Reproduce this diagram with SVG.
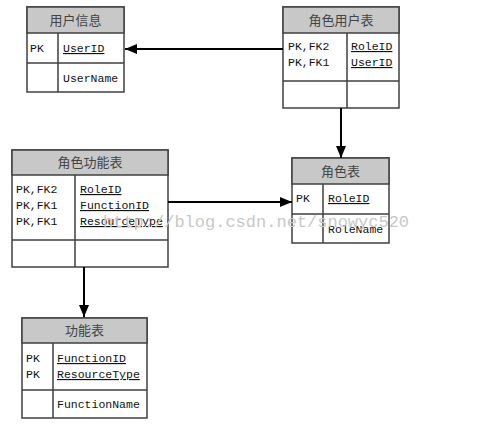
<svg xmlns="http://www.w3.org/2000/svg" width="499" height="426" viewBox="0 0 499 426">
<defs>
<marker id="ah" markerWidth="12" markerHeight="10" refX="12" refY="5" orient="auto" markerUnits="userSpaceOnUse"><path d="M0,0 L12,5 L0,10 Z" fill="#000"/></marker>
<style>
.box{fill:#fff;stroke:#404040;stroke-width:1.5}
.hd{fill:#c8c8c8;stroke:#404040;stroke-width:1.5}
.ln{stroke:#404040;stroke-width:1.5;fill:none}
.h{font-family:"Noto Sans CJK SC",sans-serif;font-size:13px;fill:#444;text-anchor:middle}
.t{font-family:"Liberation Mono",monospace;font-size:11.5px;fill:#111}
.u{text-decoration:underline}
.c{stroke:#000;stroke-width:2;fill:none}
.wm{font-family:"Liberation Mono",monospace;font-size:17px;fill:#c8c8c8}
</style>
</defs>
<rect width="499" height="426" fill="#fff"/>
<g id="userinfo">
<rect class="box" x="27" y="7" width="97" height="85"/>
<rect class="hd" x="27" y="7" width="97" height="26"/>
<path class="ln" d="M27,63 H124 M58,33 V92"/>
<text class="h" x="75.5" y="25">用户信息</text>
<text class="t" x="30" y="52">PK</text>
<text class="t u" x="63" y="52">UserID</text>
<text class="t" x="63" y="82">UserName</text>
</g>
<g id="roleuser">
<rect class="box" x="283" y="7" width="116" height="101"/>
<rect class="hd" x="283" y="7" width="116" height="26"/>
<path class="ln" d="M283,81 H399 M347,33 V108"/>
<text class="h" x="341" y="25">角色用户表</text>
<text class="t" x="288" y="50">PK,FK2</text>
<text class="t" x="288" y="66">PK,FK1</text>
<text class="t u" x="351" y="50">RoleID</text>
<text class="t u" x="351" y="66">UserID</text>
</g>
<g id="rolefunc">
<rect class="box" x="12" y="150" width="156" height="117"/>
<rect class="hd" x="12" y="150" width="156" height="25"/>
<path class="ln" d="M12,240 H168 M75,175 V267"/>
<text class="h" x="90" y="167">角色功能表</text>
<text class="t" x="16" y="193">PK,FK2</text>
<text class="t" x="16" y="209">PK,FK1</text>
<text class="t" x="16" y="225">PK,FK1</text>
<text class="t u" x="80" y="193">RoleID</text>
<text class="t u" x="80" y="209">FunctionID</text>
<text class="t u" x="80" y="225">ResourceType</text>
</g>
<g id="role">
<rect class="box" x="292" y="158" width="97" height="85"/>
<rect class="hd" x="292" y="158" width="97" height="26"/>
<path class="ln" d="M292,214 H389 M323,184 V243"/>
<text class="h" x="340.5" y="176">角色表</text>
<text class="t" x="296" y="202">PK</text>
<text class="t u" x="328" y="202">RoleID</text>
<text class="t" x="328" y="233">RoleName</text>
</g>
<g id="func">
<rect class="box" x="22" y="318" width="125" height="100"/>
<rect class="hd" x="22" y="318" width="125" height="25"/>
<path class="ln" d="M22,390 H147 M53,343 V418"/>
<text class="h" x="84.5" y="335">功能表</text>
<text class="t" x="26" y="362">PK</text>
<text class="t" x="26" y="378">PK</text>
<text class="t u" x="57" y="362">FunctionID</text>
<text class="t u" x="57" y="378">ResourceType</text>
<text class="t" x="57" y="408">FunctionName</text>
</g>
<g id="connectors">
<line class="c" x1="283" y1="49" x2="125" y2="49" marker-end="url(#ah)"/>
<line class="c" x1="341" y1="108" x2="341" y2="158" marker-end="url(#ah)"/>
<line class="c" x1="168" y1="202" x2="292" y2="202" marker-end="url(#ah)"/>
<line class="c" x1="84" y1="267" x2="84" y2="317" marker-end="url(#ah)"/>
</g>
<text class="wm" x="103" y="227">http://blog.csdn.net/snowyc520</text>
</svg>
